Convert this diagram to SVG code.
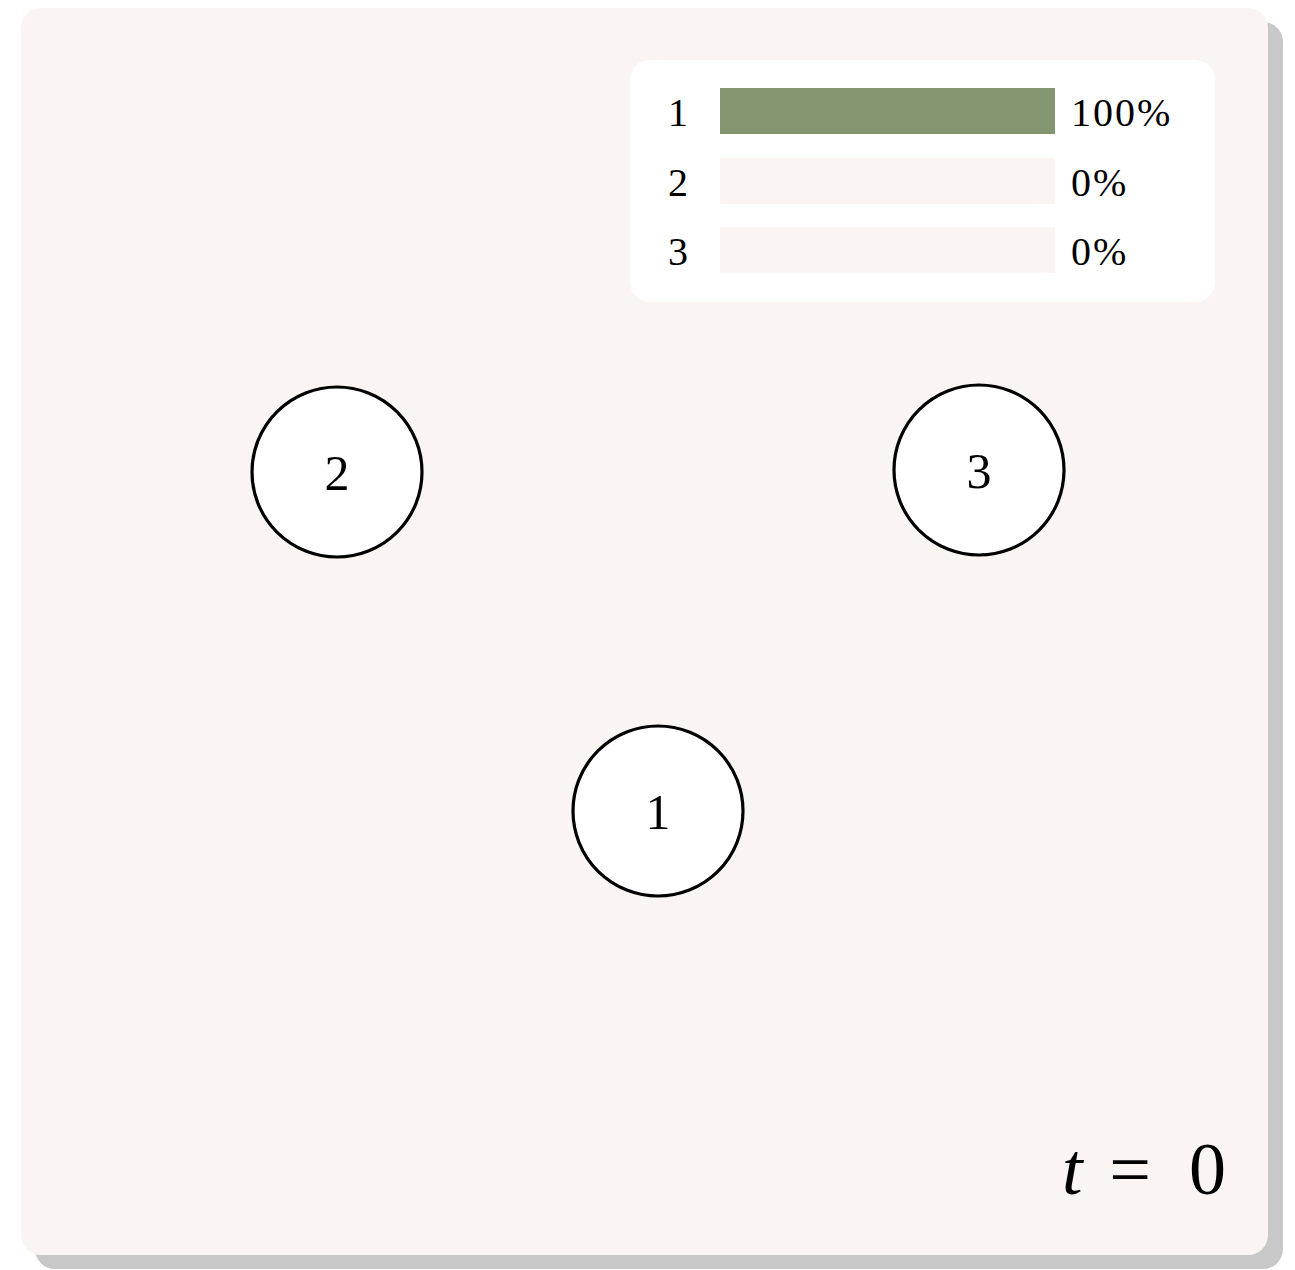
<svg xmlns="http://www.w3.org/2000/svg" width="1295" height="1270" viewBox="0 0 1295 1270">
<style>
.num{font-family:"Liberation Serif","DejaVu Serif",serif;fill:#000}
.node circle{fill:#fff;stroke:#000;stroke-width:3.2}
.node text{font-size:50px;text-anchor:middle}
.leg{font-size:40px}
.pct{font-size:40px;letter-spacing:2px}
.bar-empty{fill:#faf5f3}
</style>
<rect x="35" y="22" width="1248" height="1247" rx="20" fill="#c8c8c8"/>
<rect x="21" y="8" width="1247" height="1247" rx="20" fill="#faf5f3"/>
<g id="legend">
<rect x="630" y="60" width="585" height="242" rx="20" fill="#fff"/>
<rect x="720" y="88" width="335" height="46" fill="#83966f"/>
<rect class="bar-empty" x="720" y="158" width="335" height="46"/>
<rect class="bar-empty" x="720" y="227" width="335" height="46"/>
<text class="num leg" x="668" y="126">1</text>
<text class="num leg" x="668" y="196">2</text>
<text class="num leg" x="668" y="265">3</text>
<text class="num pct" x="1071" y="126">100%</text>
<text class="num pct" x="1071" y="196">0%</text>
<text class="num pct" x="1071" y="265">0%</text>
</g>
<g id="connectors"></g>
<g id="node2" class="node"><circle cx="337" cy="472" r="85"/><text class="num" x="337" y="490">2</text></g>
<g id="node3" class="node"><circle cx="979" cy="470" r="85"/><text class="num" x="979" y="488">3</text></g>
<g id="node1" class="node"><circle cx="658" cy="811" r="85"/><text class="num" x="658" y="829">1</text></g>
<g id="time" class="num" font-size="74">
<text x="1062" y="1194" font-style="italic">t</text>
<text x="1130" y="1194" text-anchor="middle">=</text>
<text x="1226" y="1194" text-anchor="end">0</text>
</g>
</svg>
